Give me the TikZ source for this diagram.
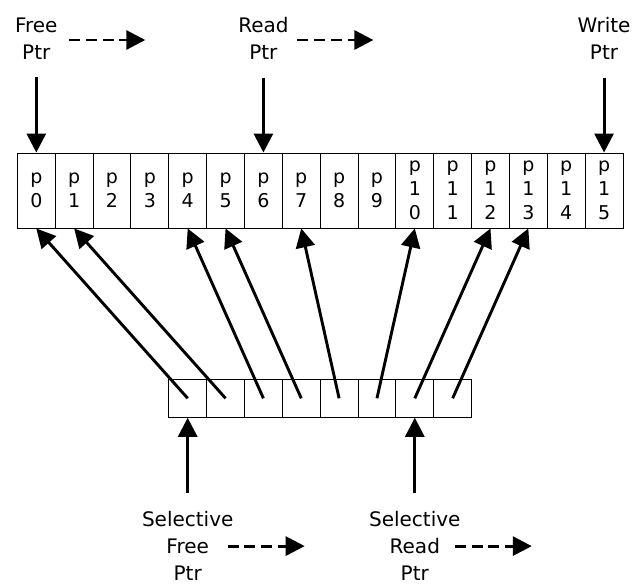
\documentclass[tikz,border=0pt]{standalone}
\usepackage{fontspec}
\setmainfont{DejaVu Sans}
\usepackage{tikz}
\usetikzlibrary{arrows.meta}
\tikzstyle{page} = [rectangle, minimum width=37.85pt, minimum height=75pt, inner sep=0pt, align=center, draw=black, line width=0.9pt, font=\fontsize{19}{24}\selectfont]
\tikzstyle{slot} = [rectangle, minimum width=37.85pt, minimum height=38pt, inner sep=0pt, draw=black, line width=0.9pt]
\tikzstyle{ptr} = [align=center, inner sep=0pt, font=\fontsize{20}{27}\selectfont]
\tikzstyle{arrow} = [line width=2.9pt, -{Triangle[length=19pt, width=19pt]}]
\tikzstyle{dasharrow} = [arrow, dash pattern=on 11pt off 5.7pt]

\begin{document}
\begin{tikzpicture}[node distance=37.85pt]
			\useasboundingbox (0,0) rectangle (633pt,-584pt);
			% page ring
			\node(p0)[page] at (36.3pt,-190.5pt) {p\\0};
			\node(p1)[page, right of=p0] {p\\1};
			\node(p2)[page, right of=p1] {p\\2};
			\node(p3)[page, right of=p2] {p\\3};
			\node(p4)[page, right of=p3] {p\\4};
			\node(p5)[page, right of=p4] {p\\5};
			\node(p6)[page, right of=p5] {p\\6};
			\node(p7)[page, right of=p6] {p\\7};
			\node(p8)[page, right of=p7] {p\\8};
			\node(p9)[page, right of=p8] {p\\9};
			\node(p10)[page, right of=p9] {p\\1\\0};
			\node(p11)[page, right of=p10] {p\\1\\1};
			\node(p12)[page, right of=p11] {p\\1\\2};
			\node(p13)[page, right of=p12] {p\\1\\3};
			\node(p14)[page, right of=p13] {p\\1\\4};
			\node(p15)[page, right of=p14] {p\\1\\5};
			% selective slots
			\node(s0)[slot, node distance=207.8pt, below of=p4] {};
			\node(s1)[slot, right of=s0] {};
			\node(s2)[slot, right of=s1] {};
			\node(s3)[slot, right of=s2] {};
			\node(s4)[slot, right of=s3] {};
			\node(s5)[slot, right of=s4] {};
			\node(s6)[slot, right of=s5] {};
			\node(s7)[slot, right of=s6] {};
			% pointers
			\node(freeptr)[ptr, node distance=152pt, above of=p0] {Free\\Ptr};
			\node(readptr)[ptr, node distance=152pt, above of=p6] {Read\\Ptr};
			\node(writeptr)[ptr, node distance=152pt, above of=p15] {Write\\Ptr};
			\node(selfree)[ptr, node distance=147.8pt, below of=s0] {Selective\\Free\\Ptr};
			\node(selread)[ptr, node distance=147.8pt, below of=s6] {Selective\\Read\\Ptr};
			\coordinate (freefrom) at ([xshift=33pt, yshift=-1.5pt]freeptr.center);
			\coordinate (freeto) at ([xshift=109pt, yshift=-1.5pt]freeptr.center);
			\coordinate (readfrom) at ([xshift=34pt, yshift=-1.5pt]readptr.center);
			\coordinate (readto) at ([xshift=110pt, yshift=-1.5pt]readptr.center);
			\coordinate (selfreefrom) at ([xshift=40pt]selfree.center);
			\coordinate (selfreeto) at ([xshift=117pt]selfree.center);
			\coordinate (selreadfrom) at ([xshift=40pt]selread.center);
			\coordinate (selreadto) at ([xshift=117pt]selread.center);

			\draw [arrow, shorten <=17.7pt] (freeptr.south) -- (p0.north);
			\draw [arrow, shorten <=17.7pt] (readptr.south) -- (p6.north);
			\draw [arrow, shorten <=17.7pt] (writeptr.south) -- (p15.north);
			\draw [arrow, shorten <=18pt] (selfree.north) -- (s0.south);
			\draw [arrow, shorten <=18pt] (selread.north) -- (s6.south);
			\draw [dasharrow] (freefrom) -- (freeto);
			\draw [dasharrow] (readfrom) -- (readto);
			\draw [dasharrow] (selfreefrom) -- (selfreeto);
			\draw [dasharrow] (selreadfrom) -- (selreadto);

			\draw [arrow] (s0.center) -- (p0.south);
			\draw [arrow] (s1.center) -- (p1.south);
			\draw [arrow] (s2.center) -- (p4.south);
			\draw [arrow] (s3.center) -- (p5.south);
			\draw [arrow] (s4.center) -- (p7.south);
			\draw [arrow] (s5.center) -- (p10.south);
			\draw [arrow] (s6.center) -- (p12.south);
			\draw [arrow] (s7.center) -- (p13.south);
\end{tikzpicture}
\end{document}
